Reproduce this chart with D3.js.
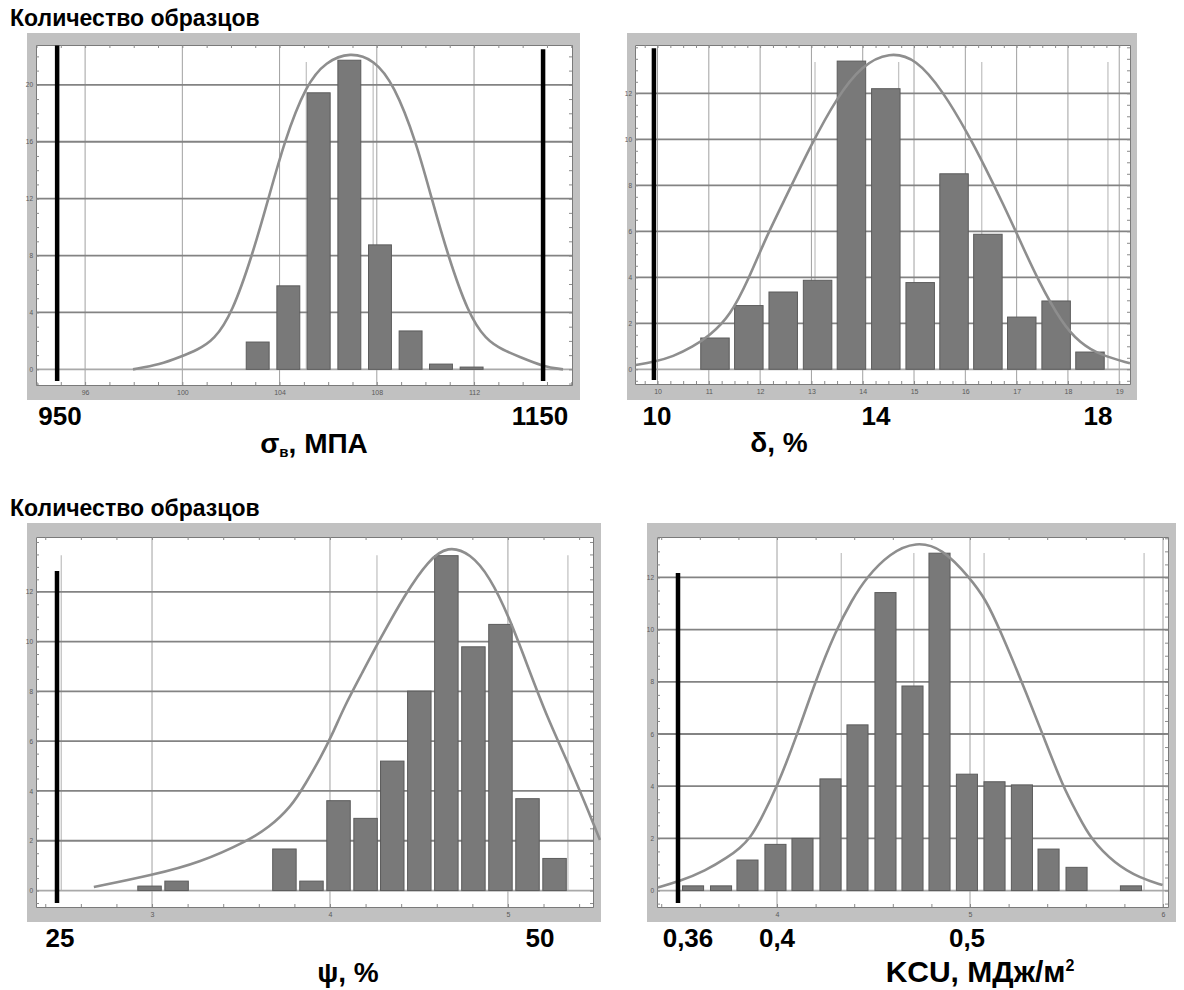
<!DOCTYPE html>
<html><head><meta charset="utf-8">
<script src="https://cdn.jsdelivr.net/npm/d3@7"></script>
<style>body{margin:0;background:#fff}svg{display:block}</style>
</head><body><svg id="c" width="1184" height="990"></svg>
<script>
// ---------- DATA ----------
const titleText = "Количество образцов";

// Panel 1: σв, MPa
const sigmaBinCenters = [1031, 1043.6, 1056.1, 1068.7, 1081.3, 1093.9, 1106.4, 1119];
const sigmaCounts = [1.92, 5.87, 19.44, 21.73, 8.75, 2.7, 0.37, 0.16];
const sigmaBinWidth = 12.57;
const sigmaCurveX = [979.7, 990.9, 999.1, 1006.1, 1013.1, 1020.5, 1028.7, 1035.3, 1041.9, 1050.9, 1059.1, 1069.0, 1078.9, 1087.1, 1096.2, 1102.7, 1109.3, 1117.5, 1124.9, 1131.9, 1138.9, 1148.4, 1156.6];
const sigmaCurveY = [0, 0.34, 0.87, 1.36, 2.06, 3.96, 7.98, 11.92, 16.01, 20.02, 21.64, 22.3, 21.78, 20.02, 16.01, 11.92, 7.98, 3.96, 2.06, 1.36, 0.87, 0.2, 0];
const sigmaLimits = [948.5, 1148.4];
const sigmaLimitTops = [22.77, 22.5];
const sigmaMarkers = [1051, 1078.5];
const sigmaXTicks = [960, 1000, 1040, 1080, 1120];
const sigmaXTickLabels = ["96", "100", "104", "108", "112"];
const sigmaYTicks = [0, 4, 8, 12, 16, 20];
const sigmaBigLabels = ["950", "1150"];

// Panel 2: δ, %
const deltaBinCenters = [11.12, 11.78, 12.45, 13.12, 13.78, 14.45, 15.12, 15.78, 16.44, 17.1, 17.77, 18.43];
const deltaCounts = [1.36, 2.77, 3.36, 3.87, 13.4, 12.2, 3.77, 8.5, 5.87, 2.27, 2.97, 0.75];
const deltaBinWidth = 0.665;
const deltaCurveX = [9.573, 9.932, 10.302, 10.692, 11.023, 11.413, 11.784, 12.115, 12.505, 12.992, 13.499, 13.986, 14.513, 15.039, 15.565, 16.053, 16.384, 16.735, 17.066, 17.417, 17.885, 18.236, 18.626, 19.21];
const deltaCurveY = [0.19, 0.32, 0.55, 0.98, 1.48, 2.31, 3.96, 5.74, 7.5, 9.75, 11.83, 13.22, 13.8, 13.52, 12.09, 10.23, 8.8, 7.2, 5.6, 3.87, 2.0, 1.14, 0.62, 0.26];
const deltaLimits = [9.93];
const deltaLimitTops = [13.96];
const deltaMarkers = [13.07, 14.7, 16.32, 18.78];
const deltaXTicks = [10, 11, 12, 13, 14, 15, 16, 17, 18, 19];
const deltaXTickLabels = ["10", "11", "12", "13", "14", "15", "16", "17", "18", "19"];
const deltaYTicks = [0, 2, 4, 6, 8, 10, 12];
const deltaBigLabels = ["10", "14", "18"];

// Panel 3: ψ, %
const psiBinCenters = [29.86, 31.38, 37.44, 38.96, 40.48, 42.0, 43.5, 45.02, 46.54, 48.06, 49.58, 51.1, 52.62];
const psiCounts = [0.18, 0.38, 1.67, 0.38, 3.61, 2.9, 5.2, 8.01, 13.45, 9.79, 10.69, 3.69, 1.29];
const psiBinWidth = 1.516;
const psiCurveX = [26.73, 30, 32.7, 35.45, 36.52, 37.81, 38.65, 39.49, 40.17, 40.79, 41.8, 42.75, 44.25, 45.54, 46.62, 47.9, 48.98, 50.06, 51.12, 52.19, 53.48, 54.57, 55.17];
const psiCurveY = [0.14, 0.62, 1.12, 2.03, 2.51, 3.35, 4.32, 5.36, 6.33, 7.37, 8.73, 10.02, 11.94, 13.27, 13.85, 13.54, 12.6, 11.0, 8.99, 6.98, 4.97, 3.1, 2.03];
const psiLimits = [24.66];
const psiLimitTops = [12.83];
const psiMarkers = [24.9, 42.64, 53.37];
const psiXTicks = [30, 40, 50];
const psiXTickLabels = ["3", "4", "5"];
const psiYTicks = [0, 2, 4, 6, 8, 10, 12];
const psiBigLabels = ["25", "50"];

// Panel 4: KCU, MJ/m²
const kcuBinCenters = [0.3565, 0.371, 0.3847, 0.3992, 0.4132, 0.4277, 0.4417, 0.4562, 0.4702, 0.4842, 0.4984, 0.5127, 0.5269, 0.5407, 0.5552, 0.5834];
const kcuCounts = [0.18, 0.18, 1.17, 1.77, 2.0, 4.28, 6.35, 11.42, 7.84, 12.93, 4.46, 4.17, 4.05, 1.59, 0.89, 0.18];
const kcuBinWidth = 0.01419;
const kcuCurveX = [0.3381, 0.3497, 0.3627, 0.3746, 0.3808, 0.386, 0.3912, 0.4, 0.4104, 0.4197, 0.4306, 0.4389, 0.4461, 0.4585, 0.472, 0.4855, 0.5, 0.5083, 0.5155, 0.5269, 0.5378, 0.5482, 0.556, 0.5622, 0.5751, 0.5881, 0.5998];
const kcuCurveY = [0.12, 0.36, 0.75, 1.28, 1.63, 2.01, 2.66, 3.97, 5.96, 7.99, 9.99, 11.14, 11.98, 12.94, 13.38, 13.13, 11.98, 11.14, 9.99, 7.99, 5.96, 3.97, 2.9, 2.01, 1.02, 0.48, 0.21];
const kcuLimits = [0.3487];
const kcuLimitTops = [12.17];
const kcuMarkers = [0.4333, 0.4709, 0.5073, 0.5902];
const kcuXTicks = [0.4, 0.5, 0.6];
const kcuXTickLabels = ["4", "5", "6"];
const kcuYTicks = [0, 2, 4, 6, 8, 10, 12];
const kcuBigLabels = ["0,36", "0,4", "0,5"];

// ---------- DRAWING ----------
const svg = d3.select("#c");
const FONT = "'Liberation Sans', Arial, Helvetica, sans-serif";

[26, 516].forEach(ty => {
  svg.append("text").attr("x", 10).attr("y", ty).text(titleText)
    .attr("font-family", FONT).attr("font-weight", "bold").attr("font-size", 23).attr("fill", "#000");
});

function drawPanel(c) {
  const g = svg.append("g");
  const x = d3.scaleLinear().domain(c.xDomain).range([c.plot.x0, c.plot.x1]);
  const y = d3.scaleLinear().domain(c.yDomain).range([c.plot.y1, c.plot.y0]);
  const pw = c.plot.x1 - c.plot.x0, ph = c.plot.y1 - c.plot.y0;

  g.append("rect").attr("x", c.frame.x).attr("y", c.frame.y).attr("width", c.frame.w).attr("height", c.frame.h)
    .attr("fill", "#c1c1c1");
  g.append("rect").attr("x", c.plot.x0).attr("y", c.plot.y0).attr("width", pw).attr("height", ph)
    .attr("fill", "#fff");

  const clipId = "clip" + c.id;
  g.append("clipPath").attr("id", clipId).append("rect")
    .attr("x", c.frame.x).attr("y", c.plot.y0).attr("width", c.frame.w).attr("height", ph);

  // vertical grid
  g.append("g").selectAll("line").data(c.xTicks).join("line")
    .attr("x1", d => x(d)).attr("x2", d => x(d)).attr("y1", c.plot.y0).attr("y2", c.plot.y1)
    .attr("stroke", "#a0a0a0").attr("stroke-width", 1);
  // light marker lines
  g.append("g").selectAll("line").data(c.markers).join("line")
    .attr("x1", d => x(d)).attr("x2", d => x(d)).attr("y1", y(c.markerTop)).attr("y2", y(0))
    .attr("stroke", "#c4c4c4").attr("stroke-width", 1.3);
  // horizontal grid
  g.append("g").selectAll("line").data(c.yTicks).join("line")
    .attr("x1", c.plot.x0).attr("x2", c.plot.x1).attr("y1", d => y(d)).attr("y2", d => y(d))
    .attr("stroke", d => d === 0 ? "#a9a9a9" : "#838383").attr("stroke-width", 1.8);

  // minor ticks on all four sides
  const tickStyle = sel => { sel.select(".domain").attr("stroke", "#7a7a7a"); sel.selectAll(".tick line").attr("stroke", "#8a8a8a"); };
  g.append("g").attr("transform", `translate(0,${c.plot.y1})`)
    .call(d3.axisBottom(x).tickValues(c.xMinor).tickSize(-3).tickSizeOuter(0).tickFormat("")).call(tickStyle);
  g.append("g").attr("transform", `translate(0,${c.plot.y0})`)
    .call(d3.axisTop(x).tickValues(c.xMinor).tickSize(-3).tickSizeOuter(0).tickFormat("")).call(tickStyle);
  g.append("g").attr("transform", `translate(${c.plot.x0},0)`)
    .call(d3.axisLeft(y).tickValues(c.yMinor).tickSize(-3).tickSizeOuter(0).tickFormat("")).call(tickStyle);
  g.append("g").attr("transform", `translate(${c.plot.x1},0)`)
    .call(d3.axisRight(y).tickValues(c.yMinor).tickSize(-3).tickSizeOuter(0).tickFormat("")).call(tickStyle);

  // tiny tick labels in the grey band
  const xl = g.append("g").attr("transform", `translate(0,${c.plot.y1 + 2})`)
    .call(d3.axisBottom(x).tickValues(c.xTicks).tickSize(0).tickFormat((d, i) => c.xTickLabels[i]));
  xl.select(".domain").remove();
  xl.selectAll("text").attr("font-size", 7).attr("fill", "#5a5a5a").attr("font-family", FONT);
  const yl = g.append("g").attr("transform", `translate(${c.plot.x0 - 1},0)`)
    .call(d3.axisLeft(y).tickValues(c.yTicks).tickSize(0).tickPadding(2));
  yl.select(".domain").remove();
  yl.selectAll("text").attr("font-size", 6.5).attr("fill", "#5a5a5a").attr("font-family", FONT);

  // bars
  const bw = c.binWidth * c.barFrac;
  const bars = c.centers.map((d, i) => ({ c: d, v: c.counts[i] }));
  g.append("g").selectAll("rect").data(bars).join("rect")
    .attr("x", d => x(d.c - bw / 2)).attr("width", d => x(d.c + bw / 2) - x(d.c - bw / 2))
    .attr("y", d => y(d.v)).attr("height", d => y(0) - y(d.v))
    .attr("fill", "#797979").attr("stroke", "#5c5c5c").attr("stroke-width", 1);

  // fitted curve
  const line = d3.line().x(d => x(d[0])).y(d => y(d[1])).curve(d3.curveBasis);
  g.append("path").datum(c.curveX.map((d, i) => [d, c.curveY[i]]))
    .attr("d", line).attr("fill", "none").attr("stroke", "#8e8e8e").attr("stroke-width", 2.6)
    .attr("clip-path", `url(#${clipId})`);

  // black limit lines
  g.append("g").selectAll("line").data(c.limits.map((d, i) => ({ v: d, t: c.limitTops[i] }))).join("line")
    .attr("x1", d => x(d.v)).attr("x2", d => x(d.v)).attr("y1", d => y(d.t)).attr("y2", c.plot.y1 - 4)
    .attr("stroke", "#000").attr("stroke-width", 4.5);

  // big labels under the frame
  g.append("g").selectAll("text").data(c.bigLabels).join("text")
    .attr("x", (d, i) => c.bigLabelX[i]).attr("y", c.bigLabelY).attr("text-anchor", "middle")
    .attr("font-family", FONT).attr("font-weight", "bold").attr("font-size", 26).attr("fill", "#000")
    .text(d => d);

  // axis title
  const t = g.append("text").attr("x", c.titleX).attr("y", c.titleY).attr("text-anchor", "middle")
    .attr("font-family", FONT).attr("font-weight", "bold").attr("font-size", c.titleSize || 28).attr("fill", "#000");
  c.titleParts.forEach(p => {
    const s = t.append("tspan").text(p.t);
    if (p.sub) s.attr("font-size", 15).attr("dy", 4);
    if (p.back) s.attr("dy", -4);
    if (p.sup) s.attr("font-size", 16).attr("dy", -11);
  });
}

drawPanel({
  id: 1,
  frame: { x: 27, y: 33, w: 553, h: 367 },
  plot: { x0: 36, x1: 572, y0: 45, y1: 385 },
  xDomain: [939.8, 1160.3], yDomain: [-1.1, 22.8],
  centers: sigmaBinCenters, counts: sigmaCounts, binWidth: sigmaBinWidth, barFrac: 0.75,
  curveX: sigmaCurveX, curveY: sigmaCurveY,
  limits: sigmaLimits, limitTops: sigmaLimitTops,
  markers: sigmaMarkers, markerTop: 21.6,
  xTicks: sigmaXTicks, xTickLabels: sigmaXTickLabels, yTicks: sigmaYTicks,
  xMinor: d3.range(940, 1161, 10), yMinor: d3.range(-1, 23, 1),
  bigLabels: sigmaBigLabels, bigLabelX: [60, 540], bigLabelY: 425,
  titleX: 314, titleY: 453,
  titleParts: [{ t: "σ" }, { t: "в", sub: true }, { t: ", МПА", back: true }]
});

drawPanel({
  id: 2,
  frame: { x: 627, y: 33, w: 510, h: 367 },
  plot: { x0: 635, x1: 1130, y0: 45, y1: 384 },
  xDomain: [9.561, 19.21], yDomain: [-0.64, 14.1],
  centers: deltaBinCenters, counts: deltaCounts, binWidth: deltaBinWidth, barFrac: 0.835,
  curveX: deltaCurveX, curveY: deltaCurveY,
  limits: deltaLimits, limitTops: deltaLimitTops,
  markers: deltaMarkers, markerTop: 13.36,
  xTicks: deltaXTicks, xTickLabels: deltaXTickLabels, yTicks: deltaYTicks,
  xMinor: d3.range(9.75, 19.2, 0.25), yMinor: d3.range(-0.5, 14.1, 0.5),
  bigLabels: deltaBigLabels, bigLabelX: [657, 876, 1098], bigLabelY: 425,
  titleX: 779, titleY: 452,
  titleParts: [{ t: "δ, %" }]
});

drawPanel({
  id: 3,
  frame: { x: 27, y: 523, w: 574, h: 399 },
  plot: { x0: 36, x1: 593, y0: 537, y1: 907 },
  xDomain: [23.48, 54.78], yDomain: [-0.66, 14.2],
  centers: psiBinCenters, counts: psiCounts, binWidth: psiBinWidth, barFrac: 0.87,
  curveX: psiCurveX, curveY: psiCurveY,
  limits: psiLimits, limitTops: psiLimitTops,
  markers: psiMarkers, markerTop: 13.47,
  xTicks: psiXTicks, xTickLabels: psiXTickLabels, yTicks: psiYTicks,
  xMinor: d3.range(24, 55, 2), yMinor: d3.range(-0.5, 14.2, 0.5),
  bigLabels: psiBigLabels, bigLabelX: [60, 540], bigLabelY: 947,
  titleX: 348, titleY: 982,
  titleParts: [{ t: "ψ, %" }]
});

drawPanel({
  id: 4,
  frame: { x: 647, y: 523, w: 529, h: 399 },
  plot: { x0: 657, x1: 1168, y0: 537, y1: 907 },
  xDomain: [0.33782, 0.60259], yDomain: [-0.63, 13.55],
  centers: kcuBinCenters, counts: kcuCounts, binWidth: kcuBinWidth, barFrac: 0.77,
  curveX: kcuCurveX, curveY: kcuCurveY,
  limits: kcuLimits, limitTops: kcuLimitTops,
  markers: kcuMarkers, markerTop: 12.94,
  xTicks: kcuXTicks, xTickLabels: kcuXTickLabels, yTicks: kcuYTicks,
  xMinor: d3.range(0.34, 0.603, 0.02), yMinor: d3.range(-0.5, 13.6, 0.5),
  bigLabels: kcuBigLabels, bigLabelX: [688, 777, 967], bigLabelY: 947,
  titleX: 980, titleY: 982, titleSize: 30,
  titleParts: [{ t: "KCU, МДж/м" }, { t: "2", sup: true }]
});
</script>
</body></html>
